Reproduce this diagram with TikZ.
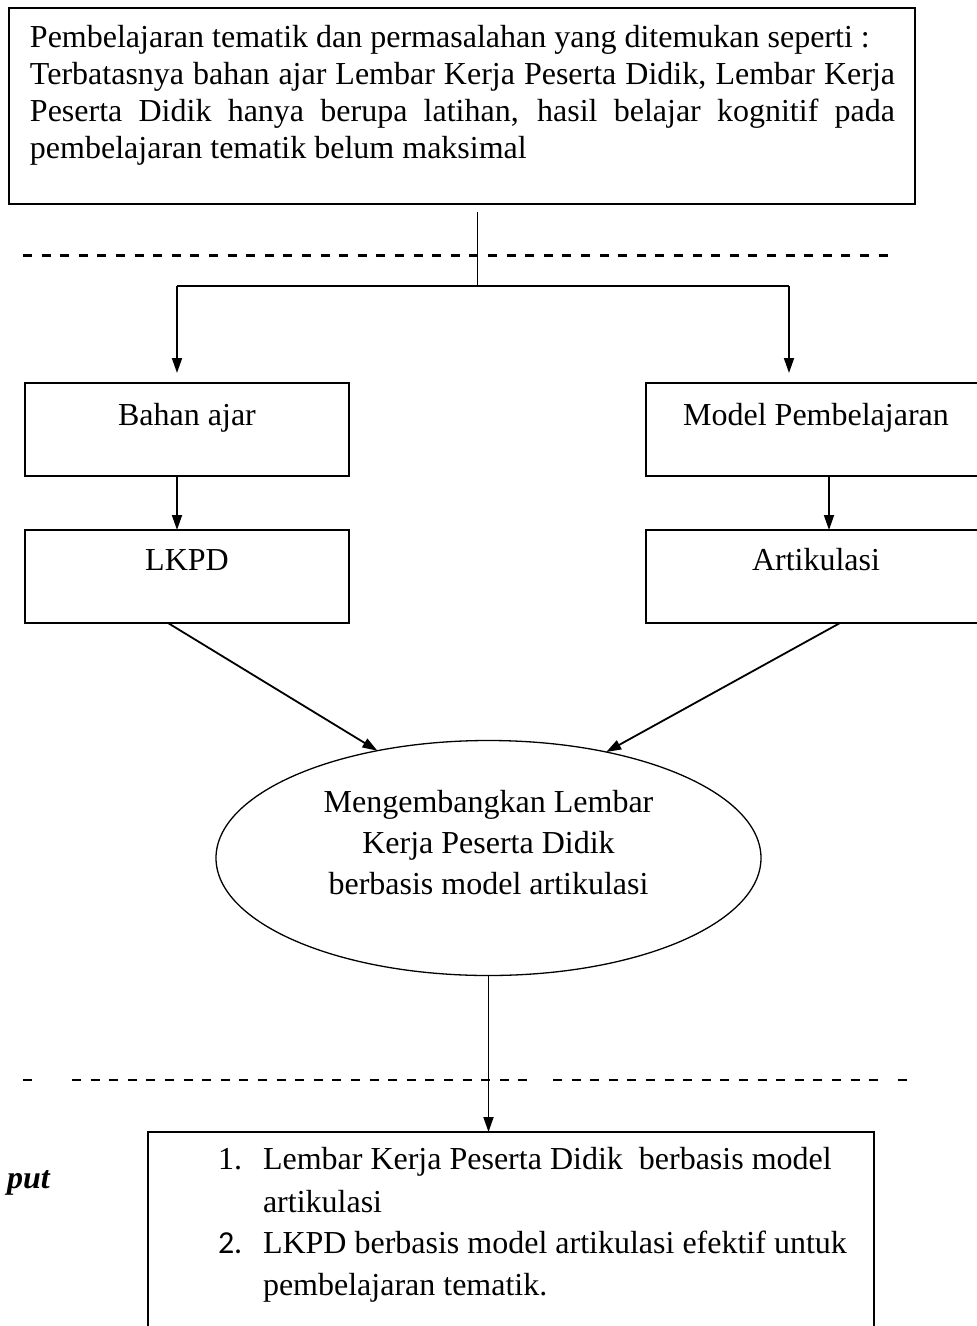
\documentclass[tikz,border=0pt]{standalone}
\usepackage{fontspec}
\setmainfont{Liberation Serif}
\newfontfamily\numfont{Carlito}
\usetikzlibrary{arrows.meta,shapes.geometric}

\tikzset{
  box/.style={draw, line width=1.5pt, rectangle, inner sep=0pt, outer sep=0pt, anchor=north west},
  lbl/.style={inner sep=0pt, outer sep=0pt, font=\fontsize{32}{38}\selectfont},
  conn/.style={line width=1.5pt},
  arr/.style={line width=1.8pt, -{Triangle[length=15pt,width=10pt]}},
  sep/.style={line width=2.4pt, dash pattern=on 9pt off 9.6pt},
}

\begin{document}
\begin{tikzpicture}[x=1pt,y=-1pt]
  \useasboundingbox (0,0) rectangle (977,1326);
  \clip (0,0) rectangle (977,1326);
  \fill[white] (0,0) rectangle (977,1326);

  % boxes
  \node[box, minimum width=906pt, minimum height=196pt] (top) at (9,8) {};
  \node[box, minimum width=324pt, minimum height=93pt] (bahan) at (25,383) {};
  \node[box, minimum width=339pt, minimum height=93pt] (model) at (646,383) {};
  \node[box, minimum width=324pt, minimum height=93pt] (lkpd) at (25,530) {};
  \node[box, minimum width=339pt, minimum height=93pt] (artik) at (646,530) {};
  \node[ellipse, draw, line width=1.3pt, inner sep=0pt, outer sep=0pt,
        minimum width=545pt, minimum height=235pt] (ell) at (488.5,858) {};
  \node[box, minimum width=726pt, minimum height=220pt] (res) at (148,1132) {};

  % problem statement
  \node[lbl, anchor=base west] (t1) at (30,47) {Pembelajaran tematik dan permasalahan yang ditemukan seperti :};
  \node[lbl, anchor=base west] (t2) at (30,84) {\makebox[865pt][s]{Terbatasnya bahan ajar Lembar Kerja Peserta Didik, Lembar Kerja}};
  \node[lbl, anchor=base west] (t3) at (30,121) {\makebox[865pt][s]{Peserta Didik hanya berupa latihan, hasil belajar kognitif pada}};
  \node[lbl, anchor=base west] (t4) at (30,158) {pembelajaran tematik belum maksimal};

  % box labels
  \node[lbl, anchor=base] (lb1) at (187,425) {Bahan ajar};
  \node[lbl, anchor=base] (lb2) at (816,425) {Model Pembelajaran};
  \node[lbl, anchor=base] (lb3) at (187,570) {LKPD};
  \node[lbl, anchor=base] (lb4) at (816,570) {Artikulasi};

  % ellipse text
  \node[lbl, anchor=base] (e1) at (488.5,812) {Mengembangkan Lembar};
  \node[lbl, anchor=base] (e2) at (488.5,853) {Kerja Peserta Didik};
  \node[lbl, anchor=base] (e3) at (488.5,894) {berbasis model artikulasi};

  % outcome
  \node[lbl, anchor=base west, font=\fontsize{32}{38}\selectfont\bfseries\itshape] (put) at (7,1188) {put};
  \node[lbl, anchor=base west] (n1) at (218,1169) {1.};
  \node[lbl, anchor=base west] (r1) at (263,1169) {Lembar Kerja Peserta Didik\ \ berbasis model};
  \node[lbl, anchor=base west] (r2) at (263,1212) {artikulasi};
  \node[lbl, anchor=base west, font=\fontsize{32}{38}\numfont] (n2) at (218,1253) {2.};
  \node[lbl, anchor=base west] (r3) at (263,1253) {LKPD berbasis model artikulasi efektif untuk};
  \node[lbl, anchor=base west] (r4) at (263,1295) {pembelajaran tematik.};

  % dashed separators
  \coordinate (d1a) at (23,255.5);
  \coordinate (d1b) at (888,255.5);
  \draw[sep] (d1a) -- (d1b);
  \coordinate (d2a) at (23,1080);
  \coordinate (d2b) at (32,1080);
  \coordinate (d2c) at (72,1080);
  \coordinate (d2d) at (536,1080);
  \coordinate (d2e) at (553,1080);
  \coordinate (d2f) at (880,1080);
  \coordinate (d2g) at (898,1080);
  \coordinate (d2h) at (907,1080);
  \draw[sep] (d2a) -- (d2b);
  \draw[sep] (d2c) -- (d2d);
  \draw[sep] (d2e) -- (d2f);
  \draw[sep] (d2g) -- (d2h);

  % fork below the problem statement
  \coordinate (stub) at (477.7,212);
  \coordinate (fork) at (477.7,286);
  \coordinate (forkL) at (177,286);
  \coordinate (forkR) at (789,286);
  \coordinate (mx) at (829,0);
  \draw[conn] (stub) -- (fork);
  \draw[conn] (forkL) -- (forkR);
  \draw[arr, shorten >=10pt] (forkL) -- (forkL |- bahan.north);
  \draw[arr, shorten >=10pt] (forkR) -- (forkR |- model.north);

  % chains
  \draw[arr] (bahan.south -| forkL) -- (lkpd.north -| forkL);
  \draw[arr] (model.south -| mx) -- (artik.north -| mx);
  \draw[arr] ([xshift=-19pt]lkpd.south) -- (ell.136.5);
  \draw[arr] ([xshift=24.5pt]artik.south) -- (ell.42);
  \draw[arr] (ell.south) -- (ell.south |- res.north);
\end{tikzpicture}
\end{document}
